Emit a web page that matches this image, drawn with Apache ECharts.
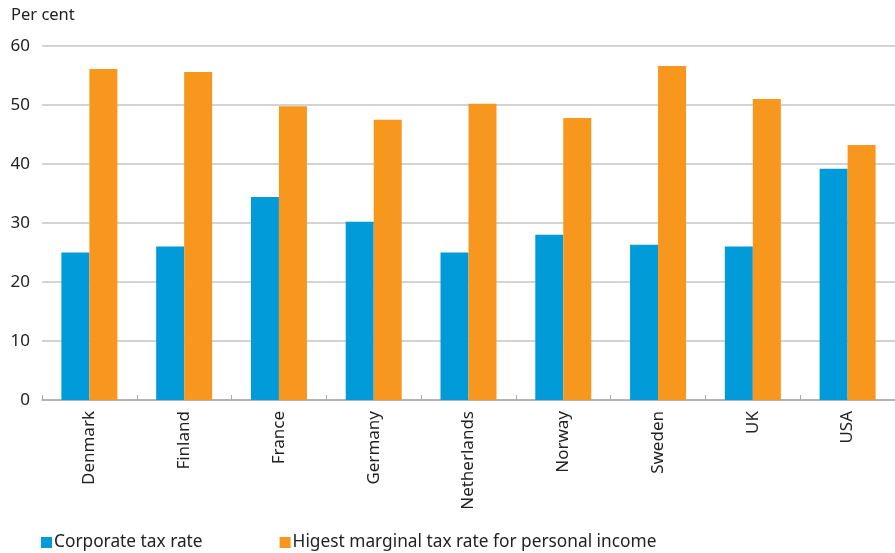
<!DOCTYPE html>
<html>
<head>
<meta charset="utf-8">
<style>
  html, body { margin: 0; padding: 0; background: #fff; }
  #chart { width: 895px; height: 553px; }
</style>
<script src="https://cdn.jsdelivr.net/npm/echarts@6/dist/echarts.min.js"></script>
</head>
<body>
<div id="chart"></div>
<script>
const countries = ['Denmark', 'Finland', 'France', 'Germany', 'Netherlands', 'Norway', 'Sweden', 'UK', 'USA'];
const corporateRate = [25, 26, 34.4, 30.2, 25, 28, 26.3, 26, 39.2];
const personalRate = [56.1, 55.6, 49.8, 47.5, 50.2, 47.8, 56.6, 51, 43.2];
const yTicks = [0, 10, 20, 30, 40, 50, 60];

const FONT = '"Noto Sans", "Open Sans", sans-serif';
const chart = echarts.init(document.getElementById('chart'), null, { renderer: 'canvas' });

chart.setOption({
  animation: false,
  textStyle: { fontFamily: FONT },
  title: {
    text: 'Per cent',
    left: 6,
    top: 2,
    textStyle: { fontFamily: FONT, fontSize: 16.5, fontWeight: 'normal', color: '#222' }
  },
  legend: {
    left: 36,
    top: 529,
    itemWidth: 11,
    itemHeight: 11,
    itemGap: 77,
    icon: 'rect',
    textStyle: { fontFamily: FONT, fontSize: 17.3, color: '#222', padding: [0, 0, 0, -3] },
    data: ['Corporate tax rate', 'Higest marginal tax rate for personal income']
  },
  grid: { left: 42, right: 0, top: 46, bottom: 153, containLabel: false },
  xAxis: {
    type: 'category',
    data: countries,
    axisLine: { lineStyle: { color: '#aaaaaa', width: 1.5 } },
    axisTick: { show: true, inside: true, length: 5, lineStyle: { color: '#aaaaaa' } },
    axisLabel: { rotate: 90, margin: 11, fontSize: 17, color: '#222', fontFamily: FONT, interval: 0 }
  },
  yAxis: {
    type: 'value',
    min: yTicks[0],
    max: yTicks[yTicks.length - 1],
    interval: 10,
    axisLine: { show: false },
    axisTick: { show: false },
    axisLabel: { margin: 12, fontSize: 17, color: '#222', fontFamily: FONT },
    splitLine: { lineStyle: { color: '#c4c4c4', width: 1.5 } }
  },
  series: [
    {
      name: 'Corporate tax rate',
      type: 'bar',
      data: corporateRate,
      barWidth: 28,
      barGap: '0%',
      itemStyle: { color: '#009bd8' }
    },
    {
      name: 'Higest marginal tax rate for personal income',
      type: 'bar',
      data: personalRate,
      barWidth: 28,
      barGap: '0%',
      itemStyle: { color: '#f7971e' }
    }
  ]
});
</script>
</body>
</html>
